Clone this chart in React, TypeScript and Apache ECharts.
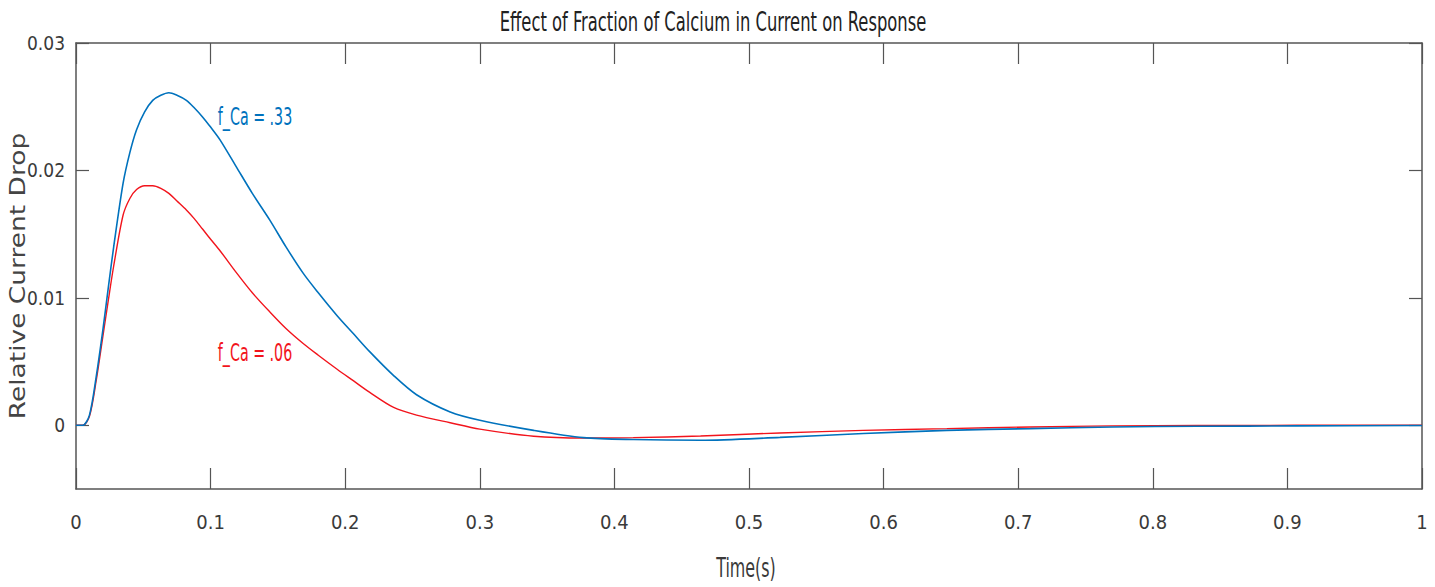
import React, { useEffect, useRef } from "react";
import * as echarts from "echarts";

const titleText = "Effect of Fraction of Calcium in Current on Response";
const xAxisName = "Time(s)";
const yAxisName = "Relative Current Drop";

const times = [0, 0.005, 0.01, 0.015, 0.02, 0.024, 0.028, 0.035, 0.04, 0.045, 0.051, 0.057, 0.063, 0.069, 0.075, 0.082, 0.088, 0.094, 0.1, 0.107, 0.119, 0.131, 0.144, 0.156, 0.169, 0.18, 0.194, 0.206, 0.218, 0.236, 0.253, 0.278, 0.3, 0.34, 0.377, 0.414, 0.464, 0.523, 0.585, 0.647, 0.709, 0.77, 0.833, 0.907, 1.0];

const blueValues = [0, 0, 0.0008, 0.0038, 0.0075, 0.0108, 0.014, 0.019, 0.0214, 0.0232, 0.0246, 0.0255, 0.0259, 0.0261, 0.0259, 0.0255, 0.0249, 0.0242, 0.0234, 0.0224, 0.0203, 0.0182, 0.0161, 0.014, 0.0119, 0.0104, 0.0086, 0.0072, 0.0058, 0.0039, 0.0024, 0.00105, 0.0004, -0.0004, -0.00097, -0.00112, -0.00118, -0.00095, -0.00065, -0.0004, -0.00026, -0.00013, -0.00008, -0.00005, -0.00002];

const redValues = [0, 0, 0.0007, 0.0035, 0.007, 0.0098, 0.0125, 0.0165, 0.0178, 0.0185, 0.0188, 0.0188, 0.0186, 0.0182, 0.0176, 0.0169, 0.0162, 0.0154, 0.0146, 0.0137, 0.012, 0.0104, 0.0089, 0.0076, 0.0064, 0.0055, 0.0044, 0.0035, 0.0026, 0.0014, 0.0008, 0.0002, -0.0003, -0.00086, -0.001, -0.00097, -0.00084, -0.0006, -0.0004, -0.00026, -0.00013, -0.00005, -0.00002, 0, 0];

const blueLabel = "f_Ca = .33";
const redLabel = "f_Ca = .06";
const blueLabelAt = [0.133, 0.0242];
const redLabelAt = [0.133, 0.00566];

const yTicks = [0, 0.01, 0.02, 0.03];

const FONT = "'DejaVu Sans Condensed', 'DejaVu Sans', sans-serif";
const AXIS_COLOR = "#555555";
const TEXT_COLOR = "#3a3a3a";
const BLUE = "#0072BD";
const RED = "#f2141c";

export default function App() {
  const ref = useRef<HTMLDivElement>(null);
  useEffect(() => {
    if (!ref.current) return;
    const chart = echarts.init(ref.current, null, { renderer: "svg" });
    const axisLine = { show: true, onZero: false, lineStyle: { color: AXIS_COLOR, width: 1.5 } };
    const xFmt = (v: number) => String(Math.round(v * 10) / 10);
    const yFmt = (v: number) => (Math.abs(v) < 1e-9 ? "0" : v.toFixed(2));
    const mk = (vals: number[]) => times.map((t, i) => [t, vals[i]]);
    const tickStyle = { color: AXIS_COLOR, width: 1.2 };
    chart.setOption({
      animation: false,
      backgroundColor: "#ffffff",
      grid: { left: 76, right: 13, top: 43, bottom: 98, containLabel: false },
      xAxis: [
        {
          type: "value",
          min: 0,
          max: 1,
          interval: 0.1,
          position: "bottom",
          axisLine,
          axisTick: { show: true, inside: true, length: 21, lineStyle: tickStyle },
          axisLabel: { formatter: xFmt, fontFamily: FONT, fontSize: 20, color: TEXT_COLOR, margin: 23 },
          splitLine: { show: false },
        },
        {
          type: "value",
          min: 0,
          max: 1,
          interval: 0.1,
          position: "top",
          axisLine,
          axisTick: { show: true, inside: true, length: 21, lineStyle: tickStyle },
          axisLabel: { show: false },
          splitLine: { show: false },
        },
      ],
      yAxis: [
        {
          type: "value",
          min: -0.005,
          max: 0.03,
          position: "left",
          axisLine,
          axisTick: { show: true, inside: true, length: 13, customValues: yTicks, lineStyle: tickStyle },
          axisLabel: { customValues: yTicks, formatter: yFmt, fontFamily: FONT, fontSize: 19, color: TEXT_COLOR, margin: 11 },
          splitLine: { show: false },
        },
        {
          type: "value",
          min: -0.005,
          max: 0.03,
          position: "right",
          axisLine,
          axisTick: { show: true, inside: true, length: 13, customValues: yTicks, lineStyle: tickStyle },
          axisLabel: { show: false },
          splitLine: { show: false },
        },
      ],
      series: [
        {
          type: "line",
          data: mk(blueValues),
          showSymbol: false,
          smooth: 0.3,
          lineStyle: { color: BLUE, width: 1.6 },
          itemStyle: { color: BLUE },
          z: 3,
        },
        {
          type: "line",
          data: mk(redValues),
          showSymbol: false,
          smooth: 0.3,
          lineStyle: { color: RED, width: 1.4 },
          itemStyle: { color: RED },
          z: 2,
        },
      ],
    });
    const bp = chart.convertToPixel({ xAxisIndex: 0, yAxisIndex: 0 }, blueLabelAt) as number[];
    const rp = chart.convertToPixel({ xAxisIndex: 0, yAxisIndex: 0 }, redLabelAt) as number[];
    const centerX = (76 + 1422) / 2;
    const txt = (text: string, x: number, y: number, fontSize: number, fill: string, scaleX: number) => ({
      type: "text",
      x,
      y,
      scaleX,
      style: { text, fontFamily: FONT, fontSize, fill, align: "center", verticalAlign: "middle" },
    });
    chart.setOption({
      graphic: [
        txt(titleText, 713, 22, 26, "#222", 0.7),
        txt(xAxisName, centerX - 3, 568, 26, TEXT_COLOR, 0.68),
        txt(blueLabel, bp[0], bp[1], 24, BLUE, 0.66),
        txt(redLabel, rp[0], rp[1], 24, RED, 0.66),
        {
          type: "text",
          x: 18,
          y: 276,
          rotation: Math.PI / 2,
          scaleX: 1.26,
          style: {
            text: yAxisName,
            fontFamily: "'DejaVu Sans', sans-serif",
            fontSize: 21,
            fill: "#444",
            align: "center",
            verticalAlign: "middle",
          },
        },
      ],
    });
    return () => chart.dispose();
  }, []);
  return <div ref={ref} style={{ position: "fixed", left: 0, top: 0, width: 1435, height: 587 }} />;
}
